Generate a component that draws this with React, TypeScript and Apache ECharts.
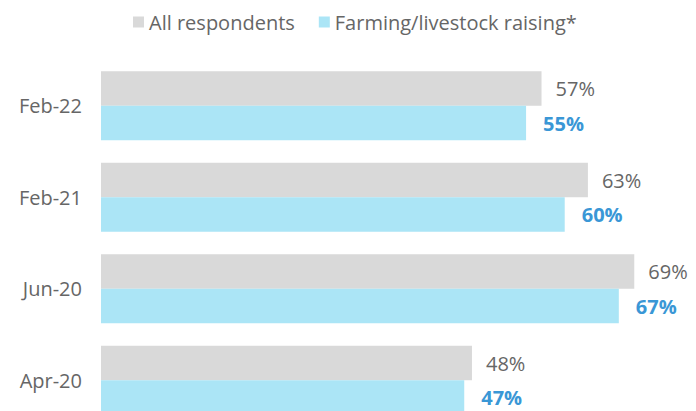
import React, { useEffect, useRef } from "react";
import * as echarts from "echarts";

const categories = ["Feb-22", "Feb-21", "Jun-20", "Apr-20"];
const allRespondents = [57, 63, 69, 48];
const farming = [55, 60, 67, 47];
const seriesNames = ["All respondents", "Farming/livestock raising*"];

export default function App() {
  const ref = useRef<HTMLDivElement>(null);
  useEffect(() => {
    const chart = echarts.init(ref.current!, null, { renderer: "svg" });
    const font = "'Open Sans', Lato, sans-serif";
    chart.setOption({
      animation: false,
      textStyle: { fontFamily: font },
      legend: {
        top: 7,
        left: 128,
        itemWidth: 11,
        itemHeight: 11,
        itemGap: 24,
        icon: "rect",
        textStyle: { fontSize: 20, color: "#666", fontFamily: font },
        data: seriesNames,
      },
      grid: { left: 101, top: 60, height: 366, width: 541 },
      xAxis: { type: "value", min: 0, max: 70, show: false },
      yAxis: {
        type: "category",
        data: categories,
        inverse: true,
        axisLine: { show: false },
        axisTick: { show: false },
        axisLabel: { fontSize: 20, color: "#666", margin: 19, fontFamily: font },
      },
      series: [
        {
          name: seriesNames[0],
          type: "bar",
          data: allRespondents,
          barWidth: 34.5,
          barGap: "0%",
          itemStyle: { color: "#d9d9d9" },
          label: {
            show: true,
            position: "right",
            distance: 14,
            formatter: "{c}%",
            fontSize: 20,
            color: "#666",
            fontFamily: font,
          },
        },
        {
          name: seriesNames[1],
          type: "bar",
          data: farming,
          barWidth: 34.5,
          barGap: "0%",
          itemStyle: { color: "#abe5f6" },
          label: {
            show: true,
            position: "right",
            distance: 17,
            formatter: "{c}%",
            fontSize: 20,
            fontWeight: "bold",
            color: "#3a97d6",
            fontFamily: font,
          },
        },
      ],
    });
    return () => chart.dispose();
  }, []);
  return (
    <div style={{ position: "absolute", left: 0, top: 0, width: 696, height: 411, overflow: "hidden" }}>
      <div ref={ref} style={{ width: 696, height: 440 }} />
    </div>
  );
}
